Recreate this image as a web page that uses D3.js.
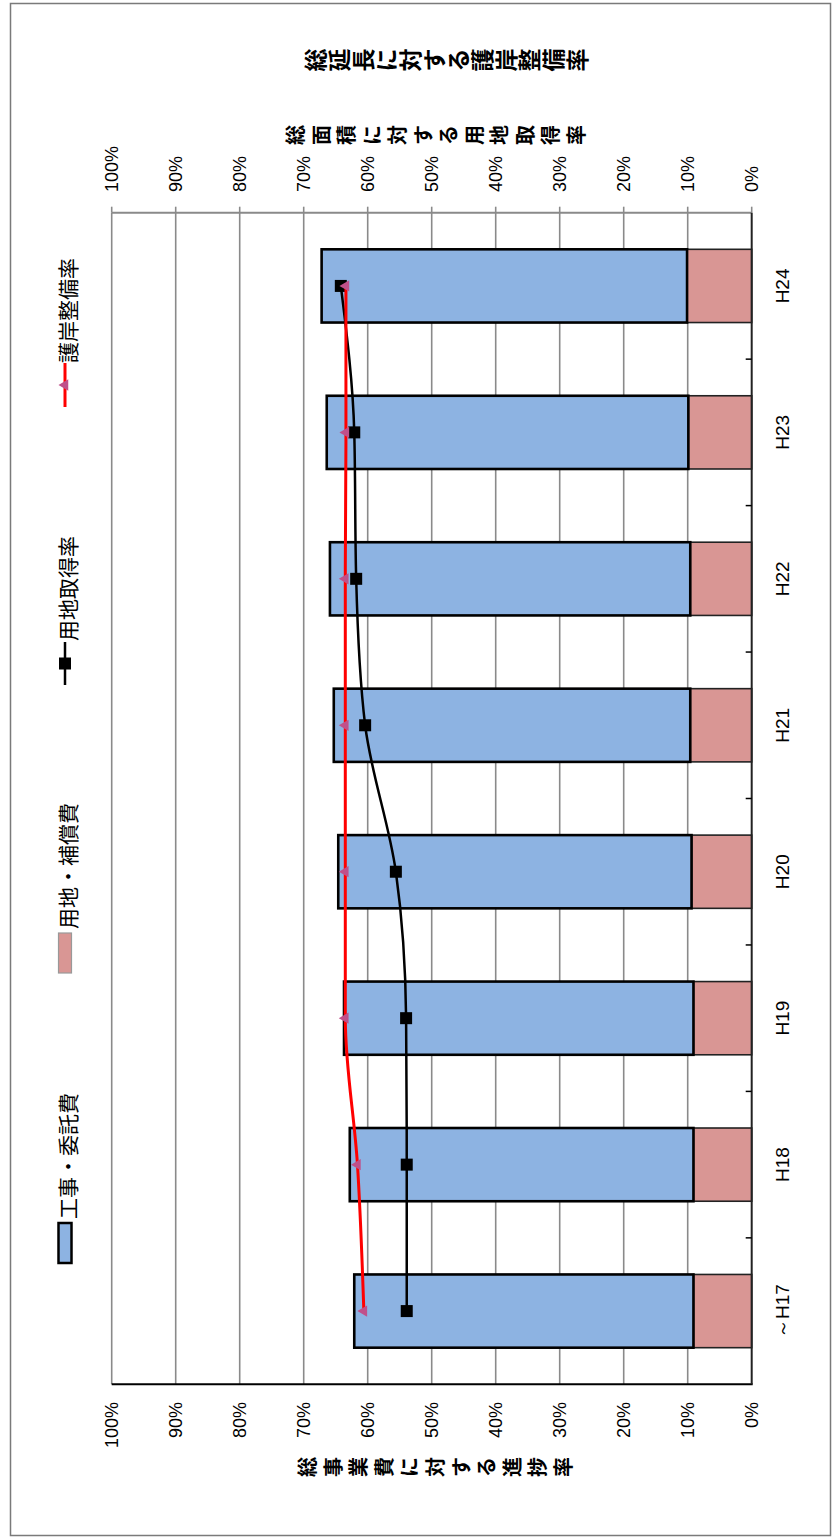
<!DOCTYPE html>
<html>
<head>
<meta charset="utf-8">
<script src="https://cdn.jsdelivr.net/npm/d3@7"></script>
<style>
  html, body { margin: 0; padding: 0; background: #fff; }
  svg { display: block; }
</style>
</head>
<body>
<script>
// ---- data ----
const categories = ["～H17", "H18", "H19", "H20", "H21", "H22", "H23", "H24"];
const landCost = [9.1, 9.1, 9.1, 9.4, 9.6, 9.6, 9.9, 10.1];          // 用地・補償費
const workCost = [53.0, 53.7, 54.6, 55.2, 55.7, 56.3, 56.5, 57.1];   // 工事・委託費
const landRate = [53.9, 53.9, 54.0, 55.6, 60.4, 61.8, 62.1, 64.2];   // 用地取得率
const bankRate = [60.6, 61.6, 63.5, 63.5, 63.5, 63.5, 63.4, 63.4];   // 護岸整備率
const tickValues = [0, 10, 20, 30, 40, 50, 60, 70, 80, 90, 100];
const legendLabels = ["工事・委託費", "用地・補償費", "用地取得率", "護岸整備率"];
const titleLeft = "総事業費に対する進捗率";
const titleRight1 = "総面積に対する用地取得率";
const titleRight2 = "総延長に対する護岸整備率";

// ---- layout ----
const W = 838, H = 1539;
const JP = "'Noto Sans CJK JP', 'Noto Sans', sans-serif";
const LAT = "'Liberation Sans', Arial, sans-serif";
const BLUE = "#8db3e2", PINK = "#d99694", RED = "#ff0000", MARK = "#c0508a";

const svg = d3.select("body").append("svg").attr("width", W).attr("height", H);
svg.append("rect").attr("width", W).attr("height", H).attr("fill", "#fff");
svg.append("rect").attr("x", 10.5).attr("y", 3.5).attr("width", 820).attr("height", 1532)
  .attr("fill", "none").attr("stroke", "#7a7a7a").attr("stroke-width", 1.5);

const plotTop = 212.7, plotBottom = 1384.3;
const x = d3.scaleLinear().domain([0, 100]).range([751.7, 111.7]);
const y = d3.scaleBand().domain(categories).range([plotBottom, plotTop])
  .paddingInner(0.5).paddingOuter(0.25);
const bw = y.bandwidth();
const cy = c => y(c) + bw / 2;

// gridlines
svg.append("g").selectAll("line").data(tickValues.filter(t => t > 0)).join("line")
  .attr("x1", d => x(d)).attr("x2", d => x(d))
  .attr("y1", plotTop).attr("y2", plotBottom)
  .attr("stroke", "#8a8a8a").attr("stroke-width", 1.6);

// top (secondary) axis line + ticks
svg.append("line").attr("x1", x(100)).attr("x2", x(0)).attr("y1", plotTop).attr("y2", plotTop)
  .attr("stroke", "#8a8a8a").attr("stroke-width", 2);
svg.append("g").selectAll("line").data(tickValues).join("line")
  .attr("x1", d => x(d)).attr("x2", d => x(d))
  .attr("y1", plotTop - 6).attr("y2", plotTop)
  .attr("stroke", "#8a8a8a").attr("stroke-width", 1.6);

// bars
const rows = categories.map((c, i) => ({ c, land: landCost[i], work: workCost[i] }));
svg.append("g").selectAll("rect").data(rows).join("rect")
  .attr("x", d => x(d.land)).attr("width", d => x(0) - x(d.land))
  .attr("y", d => y(d.c)).attr("height", bw)
  .attr("fill", PINK).attr("stroke", "#222").attr("stroke-width", 1.6);
svg.append("g").selectAll("rect").data(rows).join("rect")
  .attr("x", d => x(d.land + d.work)).attr("width", d => x(d.land) - x(d.land + d.work))
  .attr("y", d => y(d.c)).attr("height", bw)
  .attr("fill", BLUE).attr("stroke", "#000").attr("stroke-width", 2.6);

// primary axes
svg.append("line").attr("x1", x(100)).attr("x2", x(0) + 1).attr("y1", plotBottom).attr("y2", plotBottom)
  .attr("stroke", "#000").attr("stroke-width", 2);
svg.append("line").attr("x1", x(0)).attr("x2", x(0)).attr("y1", plotTop).attr("y2", plotBottom)
  .attr("stroke", "#222").attr("stroke-width", 2);
// category boundary ticks (inside)
const bounds = d3.range(1, categories.length).map(i => plotBottom - i * y.step());
svg.append("g").selectAll("line").data(bounds).join("line")
  .attr("x1", x(0) - 6).attr("x2", x(0)).attr("y1", d => d).attr("y2", d => d)
  .attr("stroke", "#000").attr("stroke-width", 1.5);

// lines
const lineGen = d3.line().x(d => x(d.v)).y(d => cy(d.c)).curve(d3.curveMonotoneY);
const landPts = categories.map((c, i) => ({ c, v: landRate[i] }));
const bankPts = categories.map((c, i) => ({ c, v: bankRate[i] }));
svg.append("path").attr("d", lineGen(landPts)).attr("fill", "none")
  .attr("stroke", "#000").attr("stroke-width", 2.5);
svg.append("g").selectAll("rect").data(landPts).join("rect")
  .attr("x", d => x(d.v) - 6).attr("y", d => cy(d.c) - 6).attr("width", 12).attr("height", 12)
  .attr("fill", "#000");
svg.append("path").attr("d", lineGen(bankPts)).attr("fill", "none")
  .attr("stroke", RED).attr("stroke-width", 3);
const tri = d3.symbol(d3.symbolTriangle, 55);
svg.append("g").selectAll("path").data(bankPts).join("path")
  .attr("d", tri)
  .attr("transform", d => `translate(${x(d.v)},${cy(d.c)}) rotate(-90)`)
  .attr("fill", MARK);

// tick labels (rotated)
svg.append("g").selectAll("text").data(tickValues).join("text")
  .attr("transform", d => `translate(${x(d)},1402) rotate(-90)`)
  .attr("text-anchor", "end").attr("dominant-baseline", "central")
  .attr("font-family", LAT).attr("font-size", 18).attr("fill", "#000")
  .text(d => d + "%");
svg.append("g").selectAll("text").data(tickValues).join("text")
  .attr("transform", d => `translate(${x(d)},192) rotate(-90)`)
  .attr("text-anchor", "start").attr("dominant-baseline", "central")
  .attr("font-family", LAT).attr("font-size", 18).attr("fill", "#000")
  .text(d => d + "%");

// category labels
svg.append("g").selectAll("text").data(categories).join("text")
  .attr("transform", d => `translate(782,${cy(d)}) rotate(-90)`)
  .attr("text-anchor", "middle").attr("dominant-baseline", "central")
  .attr("font-family", LAT).attr("font-size", 19).attr("fill", "#000")
  .text(d => d);

// stacked-character titles
function charTitle(str, x0, x1, yc, size) {
  const chars = Array.from(str);
  const step = (x1 - x0) / chars.length;
  svg.append("g").selectAll("text").data(chars).join("text")
    .attr("transform", (d, i) => `translate(${x0 + step * (i + 0.5)},${yc}) rotate(-90)`)
    .attr("text-anchor", "middle").attr("dominant-baseline", "central")
    .attr("font-family", JP).attr("font-weight", "bold").attr("font-size", size).attr("fill", "#000")
    .text(d => d);
}
charTitle(titleRight2, 302, 588, 60, 23);
charTitle(titleRight1, 282, 588, 135, 20);
charTitle(titleLeft, 294, 575, 1467, 20);

// legend
const legX = 65;
const legendStarts = [1263, 973, 685, 407];
const lg = svg.append("g");
// 工事・委託費 swatch
lg.append("rect").attr("x", legX - 6.5).attr("y", legendStarts[0] - 40).attr("width", 13).attr("height", 40)
  .attr("fill", BLUE).attr("stroke", "#000").attr("stroke-width", 2.5);
// 用地・補償費 swatch
lg.append("rect").attr("x", legX - 6.5).attr("y", legendStarts[1] - 40).attr("width", 13).attr("height", 40)
  .attr("fill", PINK).attr("stroke", "#999").attr("stroke-width", 1.2);
// 用地取得率 symbol
lg.append("line").attr("x1", legX).attr("x2", legX).attr("y1", legendStarts[2]).attr("y2", legendStarts[2] - 43)
  .attr("stroke", "#000").attr("stroke-width", 2.5);
lg.append("rect").attr("x", legX - 6).attr("y", legendStarts[2] - 21.5 - 6).attr("width", 12).attr("height", 12)
  .attr("fill", "#000");
// 護岸整備率 symbol
lg.append("line").attr("x1", legX).attr("x2", legX).attr("y1", legendStarts[3]).attr("y2", legendStarts[3] - 44)
  .attr("stroke", RED).attr("stroke-width", 3);
lg.append("path").attr("d", tri)
  .attr("transform", `translate(${legX},${legendStarts[3] - 22}) rotate(-90)`).attr("fill", MARK);
// legend texts
lg.selectAll("text").data(legendLabels).join("text")
  .attr("transform", (d, i) => `translate(${legX + 2},${legendStarts[i] - 44}) rotate(-90)`)
  .attr("text-anchor", "start").attr("dominant-baseline", "central")
  .attr("font-family", JP).attr("font-size", 21).attr("fill", "#000")
  .text(d => d);
</script>
</body>
</html>
